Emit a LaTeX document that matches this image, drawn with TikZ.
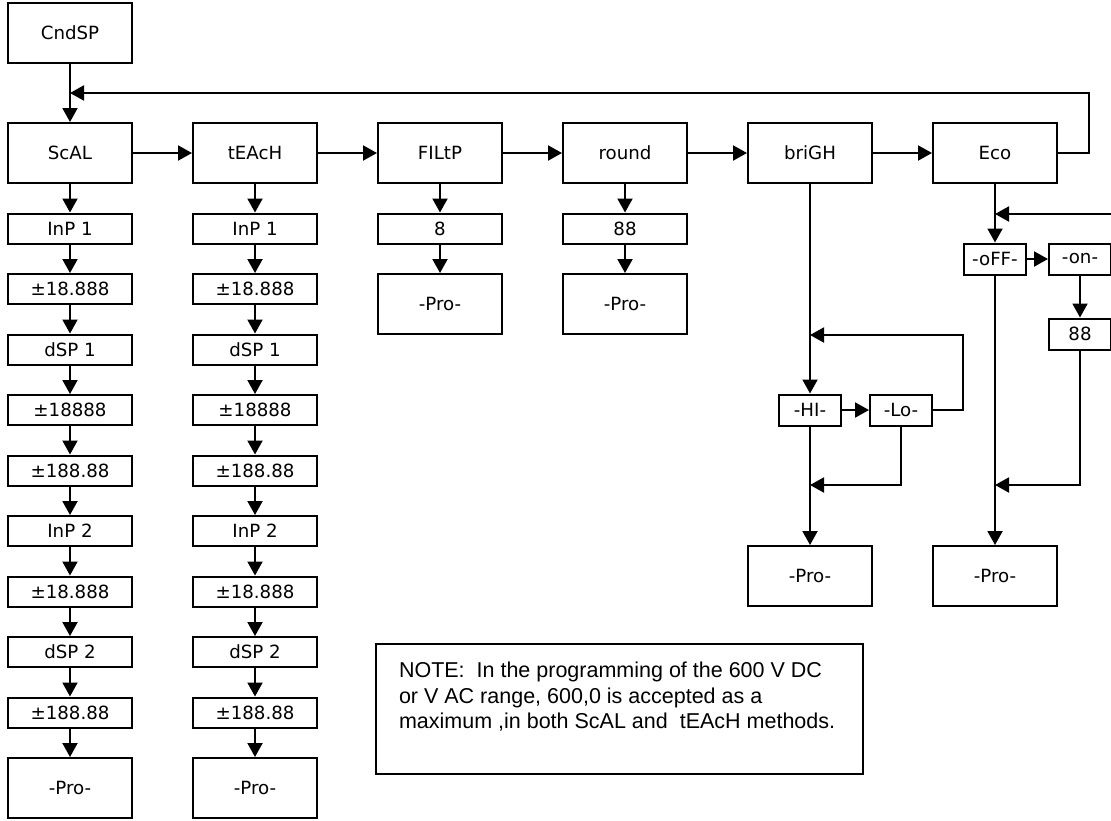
\documentclass[tikz,border=0pt]{standalone}
\usepackage{fontspec}
\setmainfont{DejaVu Sans}
\newfontfamily\notefont{Liberation Sans}
\usepackage{tikz}
\usetikzlibrary{positioning, arrows.meta}

\begin{document}
\begin{tikzpicture}[
        x = 0.5pt, y = -0.5pt,
        node distance = 14.25pt and 29.5pt,
        every node/.style = {
            draw,
            rectangle,
            line width = 1pt,
            align = center,
            inner sep = 0pt,
            font = \fontsize{9.1}{10}\selectfont
        },
        menu/.style = {
            minimum width = 62pt,
            minimum height = 30pt
        },
        entry/.style = {
            minimum width = 62pt,
            minimum height = 15pt
        },
        option/.style = {
            minimum width = 31pt,
            minimum height = 15.5pt
        },
        link/.style = {
            line width = 1pt,
            -{Triangle[length = 7pt, width = 7.5pt]}
        },
        note/.style = {
            anchor = north west,
            inner xsep = 11.5pt,
            font = \notefont\fontsize{10.75}{12.8}\selectfont
        }
    ]
    \useasboundingbox (0,0) rectangle (1111,820);

    % main menu
    \node[menu] (cndsp) at (70,33) {CndSP};
    \node[menu, alias = scal0] (scal) at (70,153) {ScAL};
    \node[menu, right = of scal, alias = teach0] (teach) {tEAcH};
    \node[menu, right = of teach] (filtp) {FILtP};
    \node[menu, right = of filtp] (round) {round};
    \node[menu, right = of round] (brigh) {briGH};
    \node[menu, right = of brigh] (eco) {Eco};

    \coordinate (back) at (70,93);
    \draw[link] (cndsp) -- (scal);
    \draw[link] (eco.east) -- ++(31,0) |- (back);
    \foreach \a/\b in {scal/teach, teach/filtp, filtp/round, round/brigh, brigh/eco}
        \draw[link] (\a) -- (\b);

    % ScAL and tEAcH
    \foreach \col in {scal, teach} {
        \foreach \val [count = \i, remember = \i as \j (initially 0)] in
            {InP 1, ±18.888, dSP 1, ±18888, ±188.88, InP 2, ±18.888, dSP 2, ±188.88} {
            \node[entry, below = of \col\j] (\col\i) {\val};
            \draw[link] (\col\j) -- (\col\i);
        }
        \node[menu, below = of \col9] (pro\col) {-Pro-};
        \draw[link] (\col9) -- (pro\col);
    }

    % FILtP and round
    \node[entry, below = of filtp] (filtval) {8};
    \node[menu, below = of filtval] (profiltp) {-Pro-};
    \node[entry, below = of round] (roundval) {88};
    \node[menu, below = of roundval] (proround) {-Pro-};
    \draw[link] (filtp) -- (filtval);
    \draw[link] (filtval) -- (profiltp);
    \draw[link] (round) -- (roundval);
    \draw[link] (roundval) -- (proround);

    % briGH
    \node[option] (hi) at (brigh |- 0,410) {-HI-};
    \node[option] (lo) at (901,410) {-Lo-};
    \node[menu] (probrigh) at (brigh |- 0,576) {-Pro-};
    \coordinate (hiback) at (brigh |- 0,335);
    \coordinate (hiout) at (brigh |- 0,485);
    \draw[link] (brigh) -- (hi);
    \draw[link] (hi) -- (lo);
    \draw[link] (lo.east) -- ++(30,0) |- (hiback);
    \draw[link] (lo.south) |- (hiout);
    \draw[link] (hi) -- (probrigh);

    % Eco
    \node[option] (off) at (eco |- 0,259) {-oFF-};
    \node[option] (on) at (1080,259) {-on-};
    \node[option] (onval) at (on |- 0,334) {88};
    \node[menu] (proeco) at (eco |- 0,576) {-Pro-};
    \coordinate (offin) at (eco |- 0,214);
    \coordinate (offout) at (eco |- 0,485);
    \coordinate (edge) at (1111,214);
    \draw[link] (eco) -- (off);
    \draw[link] (edge) -- (offin);
    \draw[link] (off) -- (on);
    \draw[link] (on) -- (onval);
    \draw[link] (onval.south) |- (offout);
    \draw[link] (off) -- (proeco);

    % note
    \node[note] (remark) at (375,643) {\parbox[c][65pt][t]{220.5pt}{\raggedright
        \vspace*{7.8pt}\strut NOTE:\ \ In the programming of the 600 V DC\\
        or V AC range, 600,0 is accepted as a\\
        maximum ,in both ScAL and\ \ tEAcH methods.}};
\end{tikzpicture}
\end{document}
